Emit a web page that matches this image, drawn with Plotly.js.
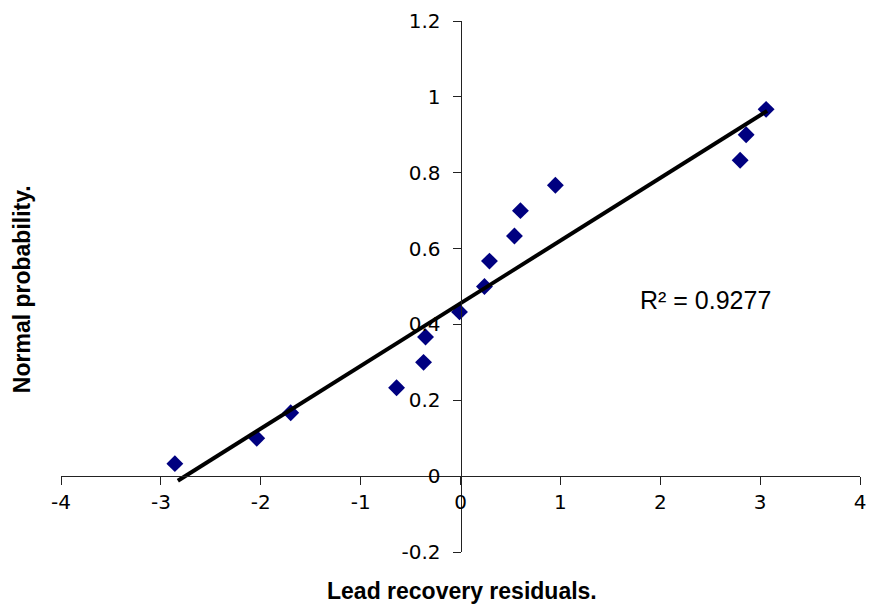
<!DOCTYPE html>
<html>
<head>
<meta charset="utf-8">
<script src="https://cdn.plot.ly/plotly-3.0.1.min.js"></script>
<style>html,body{margin:0;padding:0;background:#fff;}#chart{width:869px;height:604px;}</style>
</head>
<body>
<div id="chart"></div>
<script>
// Residuals (x) and normal probability (y)
const residuals = [-2.86, -2.04, -1.70, -0.64, -0.37, -0.35, -0.01, 0.24, 0.29, 0.54, 0.60, 0.95, 2.80, 2.86, 3.06];
const normalProb = [0.033, 0.100, 0.167, 0.233, 0.300, 0.367, 0.433, 0.500, 0.567, 0.633, 0.700, 0.767, 0.833, 0.900, 0.967];
// Trendline endpoints
const trendX = [-2.83, 3.07];
const trendY = [-0.012, 0.963];
// Tick labels
const xTickVals = [-4, -3, -2, -1, 0, 1, 2, 3, 4];
const xTickText = ["-4", "-3", "-2", "-1", "0", "1", "2", "3", "4"];
const yTickVals = [-0.2, 0, 0.2, 0.4, 0.6, 0.8, 1.0, 1.2];
const yTickText = ["-0.2", "0", "0.2", "0.4", "0.6", "0.8", "1", "1.2"];

const traces = [
  {
    x: residuals, y: normalProb, type: 'scatter', mode: 'markers',
    marker: {symbol: 'diamond', size: 13, color: '#000080'},
    showlegend: false, cliponaxis: false
  },
  {
    x: trendX, y: trendY, type: 'scatter', mode: 'lines',
    line: {color: '#000', width: 4},
    showlegend: false, cliponaxis: false
  }
];

const tickFont = {family: 'DejaVu Sans', size: 20, color: '#000'};
const layout = {
  width: 869, height: 604,
  margin: {l: 61, r: 9, t: 21, b: 52},
  paper_bgcolor: '#fff', plot_bgcolor: '#fff',
  showlegend: false,
  xaxis: {
    range: [-4, 4], anchor: 'free', position: 0.2 / 1.4,
    showgrid: false, zeroline: false, showline: true, linecolor: '#222', linewidth: 1,
    ticks: 'outside', ticklen: 8, tickcolor: '#222', tickwidth: 1,
    tickvals: xTickVals, ticktext: xTickText, tickfont: tickFont
  },
  yaxis: {
    range: [-0.2, 1.2], anchor: 'free', position: 0.5,
    showgrid: false, zeroline: false, showline: true, linecolor: '#222', linewidth: 1,
    ticks: 'outside', ticklen: 8, tickcolor: '#222', tickwidth: 1,
    ticklabelstandoff: 8,
    tickvals: yTickVals, ticktext: yTickText, tickfont: tickFont
  },
  annotations: [
    {text: 'Lead recovery residuals.', xref: 'paper', yref: 'paper', x: 0.502, y: -0.0734,
     showarrow: false, font: {family: 'Liberation Sans', size: 23, color: '#000', weight: 'bold'},
     xanchor: 'center', yanchor: 'middle'},
    {text: 'Normal probability.', xref: 'paper', yref: 'paper', x: -0.0488, y: 0.495,
     showarrow: false, textangle: -90, font: {family: 'Liberation Sans', size: 23, color: '#000', weight: 'bold'},
     xanchor: 'center', yanchor: 'middle'},
    {text: 'R² = 0.9277', xref: 'x', yref: 'y', x: 2.45, y: 0.465,
     showarrow: false, font: {family: 'Liberation Sans', size: 25, color: '#000'},
     xanchor: 'center', yanchor: 'middle'}
  ]
};

Plotly.newPlot('chart', traces, layout, {displayModeBar: false, staticPlot: true});
</script>
</body>
</html>
